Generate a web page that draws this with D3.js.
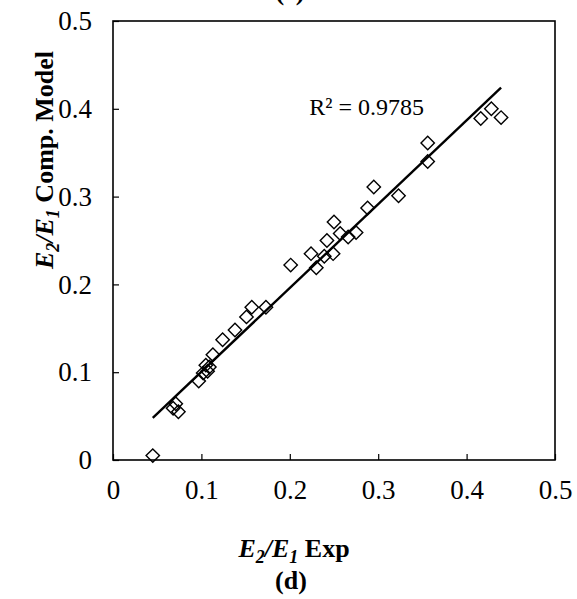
<!DOCTYPE html>
<html>
<head>
<meta charset="utf-8">
<script src="https://cdn.jsdelivr.net/npm/d3@7/dist/d3.min.js"></script>
<style>
  body { margin: 0; background: #fff; }
  svg { display: block; font-family: "Liberation Serif", "Times New Roman", serif; }
</style>
</head>
<body>
<div id="chart"></div>
<script>
// experimental E2/E1 values
var expVals = [0.045, 0.071, 0.068, 0.074, 0.097, 0.102, 0.105, 0.109, 0.107,
  0.113, 0.124, 0.138, 0.151, 0.157, 0.173, 0.201, 0.224, 0.230, 0.239, 0.242,
  0.249, 0.250, 0.257, 0.266, 0.275, 0.288, 0.295, 0.323, 0.356, 0.356,
  0.416, 0.428, 0.439];
// computational model E2/E1 values
var modelVals = [0.005, 0.064, 0.059, 0.055, 0.090, 0.099, 0.108, 0.106, 0.101,
  0.120, 0.137, 0.148, 0.163, 0.174, 0.174, 0.222, 0.235, 0.219, 0.232, 0.250,
  0.235, 0.271, 0.258, 0.254, 0.259, 0.287, 0.311, 0.301, 0.361, 0.340,
  0.389, 0.400, 0.390];
var xTicks = [0, 0.1, 0.2, 0.3, 0.4, 0.5];
var yTicks = [0, 0.1, 0.2, 0.3, 0.4, 0.5];
var r2Label = "R² = 0.9785";

var width = 577, height = 599;
var margin = {left: 113, right: 22, top: 21, bottom: 139};

var svg = d3.select("#chart").append("svg")
  .attr("width", width)
  .attr("height", height);

var x = d3.scaleLinear().domain([0, 0.5]).range([margin.left, width - margin.right]);
var y = d3.scaleLinear().domain([0, 0.5]).range([height - margin.bottom, margin.top]);

var fmt = d => d === 0 ? "0" : d3.format(".1f")(d);

// plot box
svg.append("rect")
  .attr("x", x(0))
  .attr("y", y(0.5))
  .attr("width", x(0.5) - x(0))
  .attr("height", y(0) - y(0.5))
  .attr("fill", "none")
  .attr("stroke", "#000")
  .attr("stroke-width", 1.6);

var xAxis = svg.append("g")
  .attr("transform", `translate(0,${y(0)})`)
  .call(d3.axisBottom(x).tickValues(xTicks).tickFormat(fmt).tickSizeInner(-6).tickSizeOuter(0).tickPadding(20));

var yAxis = svg.append("g")
  .attr("transform", `translate(${x(0)},0)`)
  .call(d3.axisLeft(y).tickValues(yTicks).tickFormat(fmt).tickSizeInner(-6).tickSizeOuter(0).tickPadding(21));

[xAxis, yAxis].forEach(g => {
  g.select(".domain").remove();
  g.selectAll("line").attr("stroke", "#000").attr("stroke-width", 1.2);
  g.selectAll("text")
    .attr("fill", "#000")
    .style("font-family", "'Liberation Serif', 'Times New Roman', serif")
    .style("font-size", "27px");
});

var data = expVals.map((v, i) => ({x: v, y: modelVals[i]}));

// markers
var diamond = d3.symbol().type(d3.symbolSquare).size(90);
svg.append("g")
  .selectAll("path")
  .data(data)
  .enter()
  .append("path")
  .attr("d", diamond)
  .attr("transform", d => `translate(${x(d.x)},${y(d.y)}) rotate(45)`)
  .attr("fill", "none")
  .attr("stroke", "#000")
  .attr("stroke-width", 1.4);

// linear trendline from least squares
var mx = d3.mean(data, d => d.x), my = d3.mean(data, d => d.y);
var sxy = d3.sum(data, d => (d.x - mx) * (d.y - my));
var sxx = d3.sum(data, d => (d.x - mx) * (d.x - mx));
var slope = sxy / sxx, intercept = my - slope * mx;
var ext = d3.extent(data, d => d.x);

svg.append("path")
  .datum(ext.map(v => ({x: v, y: intercept + slope * v})))
  .attr("d", d3.line().x(d => x(d.x)).y(d => y(d.y)))
  .attr("fill", "none")
  .attr("stroke", "#000")
  .attr("stroke-width", 2.4);

svg.append("text")
  .attr("x", x(0.222))
  .attr("y", y(0.393))
  .style("font-size", "24px")
  .text(r2Label);

// axis titles
function ratioTitle(sel, rest) {
  sel.append("tspan").style("font-style", "italic").text("E");
  sel.append("tspan").style("font-style", "italic").style("font-size", "18px").attr("dy", 6).text("2");
  sel.append("tspan").style("font-style", "italic").attr("dy", -6).text("/E");
  sel.append("tspan").style("font-style", "italic").style("font-size", "18px").attr("dy", 6).text("1");
  sel.append("tspan").attr("dy", -6).text(rest);
}

svg.append("text")
  .attr("x", 294)
  .attr("y", 557)
  .attr("text-anchor", "middle")
  .style("font-size", "26px")
  .style("font-weight", "bold")
  .call(ratioTitle, " Exp");

svg.append("text")
  .attr("x", 291)
  .attr("y", 589)
  .attr("text-anchor", "middle")
  .style("font-size", "26px")
  .style("font-weight", "bold")
  .text("(d)");

svg.append("text")
  .attr("transform", "translate(53,160) rotate(-90)")
  .attr("text-anchor", "middle")
  .style("font-size", "26px")
  .style("font-weight", "bold")
  .call(ratioTitle, " Comp. Model");

// caption of the panel above, cut off by the edge
svg.append("text")
  .attr("x", 290)
  .attr("y", 0)
  .attr("text-anchor", "middle")
  .style("font-size", "26px")
  .style("font-weight", "bold")
  .text("(c)");
</script>
</body>
</html>
